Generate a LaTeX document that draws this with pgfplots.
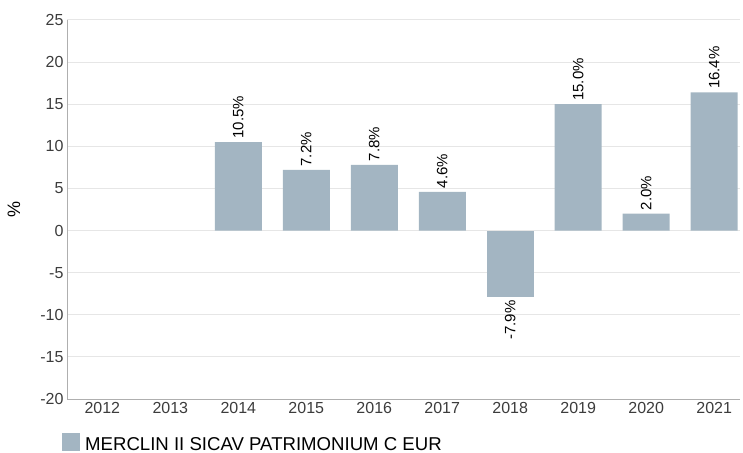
\documentclass[border=0pt]{standalone}
\usepackage{pgfplots}
\pgfplotsset{compat=1.18}
\usepackage{fontspec}
\setmainfont{Liberation Sans}
\definecolor{barc}{RGB}{163,181,194}
\definecolor{gridc}{RGB}{230,230,230}
\definecolor{axc}{RGB}{175,175,175}
\definecolor{tickc}{RGB}{60,60,60}
\begin{document}
\begin{tikzpicture}
\path[use as bounding box] (0pt,0pt) rectangle (743pt,452pt);
\begin{axis}[
  at={(67pt,53pt)}, anchor=south west,
  scale only axis, width=673pt, height=379pt,
  xmin=-0.52, xmax=9.38, ymin=-20, ymax=25,
  ytick={-20,-15,...,25},
  xtick={0,...,9},
  xticklabels={2012,2013,2014,2015,2016,2017,2018,2019,2020,2021},
  axis lines*=left,
  axis line style={draw=axc, line width=1pt},
  ymajorgrids, grid style={draw=gridc, line width=1pt},
  major tick length=0pt,
  /pgf/number format/assume math mode=true,
  tick label style={font=\fontsize{16}{16}\selectfont, text=tickc},
  ylabel={\%}, ylabel style={at={(axis description cs:-0.0788,0.5)}, anchor=center, font=\fontsize{18}{18}\selectfont},
  ybar, bar width=47pt,
  legend style={at={(axis description cs:-0.0074,-0.0897)}, anchor=north west, draw=none, fill=none, inner sep=0pt,
    font=\fontsize{18.6}{18.6}\selectfont, nodes={inner ysep=0pt, inner xsep=5pt, yshift=6pt}},
  legend image code/.code={\fill[barc] (0pt,0pt) rectangle (18pt,18pt);},
]
\addplot[fill=barc, draw=none, bar shift=0pt,
  nodes near coords={\pgfmathprintnumber[fixed,fixed zerofill,precision=1]{\pgfplotspointmeta}\%},
  nodes near coords style={rotate=90, anchor=west, font=\fontsize{15}{15}\selectfont, text=black}]
  coordinates {(2,10.5) (3,7.2) (4,7.8) (5,4.6) (7,15.0) (8,2.0) (9,16.4)};
\addlegendentry{MERCLIN II SICAV PATRIMONIUM C EUR}
\addplot[fill=barc, draw=none, bar shift=0pt, forget plot,
  nodes near coords={\pgfmathprintnumber[fixed,fixed zerofill,precision=1]{\pgfplotspointmeta}\%},
  nodes near coords style={rotate=90, anchor=east, font=\fontsize{15}{15}\selectfont, text=black}]
  coordinates {(6,-7.9)};
\end{axis}
\end{tikzpicture}
\end{document}
